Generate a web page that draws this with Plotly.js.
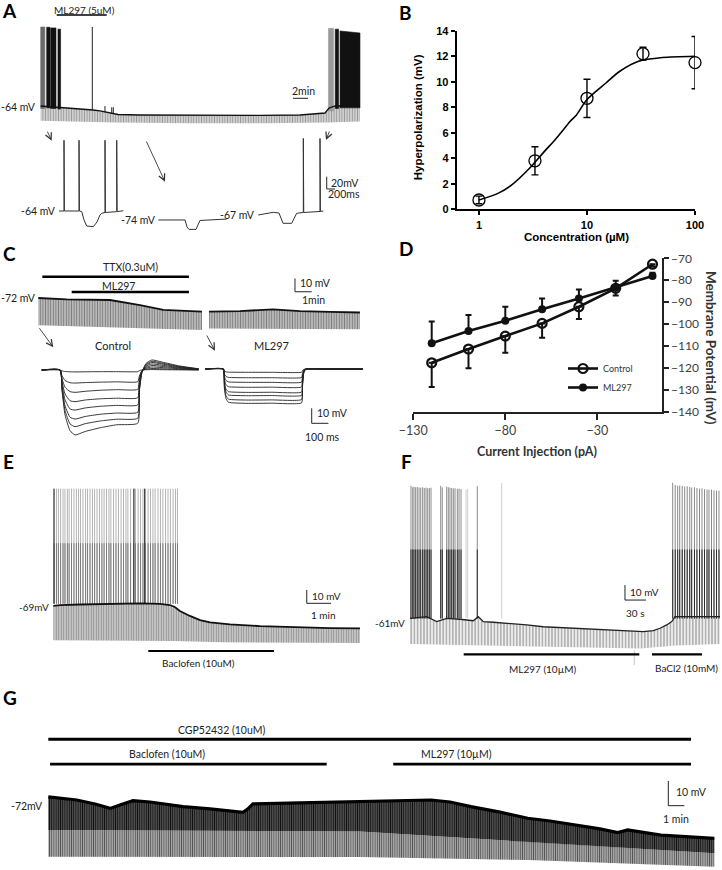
<!DOCTYPE html>
<html>
<head>
<meta charset="utf-8">
<script src="https://cdn.plot.ly/plotly-3.0.1.min.js"></script>
<style>
html,body{margin:0;padding:0;background:#fff;}
#chart{width:722px;height:870px;}
</style>
</head>
<body>
<div id="chart"></div>
<script>
/* ================= DATA ================= */
// ---- Panel B: dose response ----
const concB   = [1, 3.3, 10, 33, 100];
const hypB    = [0.73, 3.8, 8.7, 12.2, 11.5];
const hypErrB = [0.3, 1.1, 1.5, 0.5, 2.05];
const fitConcB = [1, 1.5, 2, 3, 4, 5, 6, 7, 8, 10, 15, 20, 30, 50, 100];
const fitHypB  = [0.73, 1.25, 1.9, 3.3, 4.5, 5.4, 6.2, 6.9, 7.4, 8.6, 9.9, 10.8, 11.6, 11.9, 12.0];

// ---- Panel D: I-V ----
const currentD   = [-120, -100, -80, -60, -40, -20, 0];
const vmControlD = [-117.7, -111.4, -105.5, -99.7, -92.1, -83.7, -72.7];
const errControlD= [11, 8.8, 7.6, 6.5, 5.6, 3.3, 1];
const vmML297D   = [-108.8, -103.2, -98.5, -93.2, -88.3, -83.3, -78.1];
const errML297D  = [10, 7.3, 6.4, 4.9, 4.1, 3.1, 1.5];

// ---- Panel A: long recording (min, mV) ----
const aBaseT = [0, 0.97, 2.57, 4.57, 6.97, 7.91, 8.97, 10.31, 13.24, 21.24, 29.24, 34.57, 37.91, 38.44, 39.24, 42.57];
const aBaseV = [-64, -64.8, -66.1, -68.1, -70.5, -72.1, -74.6, -77.8, -78.6, -79.1, -79.4, -78.6, -75.4, -67.3, -64, -63.2];
const aLowT  = [0, 10, 20, 30, 38, 42.57];
const aLowV  = [-88, -91, -92, -92, -91, -89];
const aSpikeT    = [6.88, 8.57, 9.47, 9.68];
const aSpikeFrom = [-70.4, -74.5, -76, -76];
const aSpikePeak = [64.5, -64, -66.1, -66.1];
const aBurstOn    = [0, 0.8, 1.33, 2.3, 38.37, 39.27, 39.91];
const aBurstOff   = [0.55, 1.24, 2.04, 2.65, 39.04, 39.71, 42.57];
const aBurstTopOn = [64.5, 64, 63, 61, 62.3, 61, 58];
const aBurstTopOff= [64.5, 64, 63, 61, 62.3, 61, 54.7];
const aBurstFloor = [-68, -67, -68, -69, -72, -68, -67];
const aML297On = [2.13], aML297Off = [8.8];
const aScaleMin = 2;
// inset traces (s, mV)
const aIn1T = [0, 0.12, 0.12, 0.13, 0.48, 0.48, 0.49, 0.544, 0.6, 0.664, 0.823, 0.911, 0.983, 1.024, 1.103, 1.103, 1.113, 1.384, 1.384, 1.394, 1.542];
const aIn1V = [-64, -64, 51, -64, -64, 51, -64, -64.8, -78.6, -88.4, -89.5, -81.9, -70.5, -67.7, -66.4, 51, -66.4, -65.1, 51, -65.1, -63.5];
const aIn2T = [2.381, 3.022, 3.07, 3.118, 3.285, 3.333, 3.381, 4.022];
const aIn2V = [-78.6, -78.6, -90, -93.9, -93.9, -86.8, -79.4, -77.1];
const aIn3T = [4.779, 5.139, 5.276, 5.324, 5.372, 5.58, 5.635, 5.7, 5.859, 5.859, 5.869, 6.259, 6.259, 6.269, 6.338];
const aIn3V = [-70.5, -66.1, -67.3, -77, -84, -84, -75.4, -67.7, -66.4, 54, -66.4, -64.8, 54, -64.8, -64];
const aInScaleMv = 20, aInScaleS = 0.2;

// ---- Panel C: TTX recording (min, mV) ----
const cTop1T = [0, 1.7, 4.29, 6.09, 7.49, 8.49, 9.8];
const cTop1V = [-72, -73.1, -73.5, -77.3, -81, -81.8, -82.3];
const cLow1T = [0, 5, 9.8];
const cLow1V = [-92.5, -94.5, -96];
const cTop2T = [10.22, 12.08, 14.05, 15.67, 17.47, 19.26];
const cTop2V = [-82.3, -81.8, -80.6, -81.8, -82.5, -82.9];
const cLow2T = [10.22, 15, 19.26];
const cLow2V = [-95, -95.5, -95.5];
const cTTXOn = [0.24], cTTXOff = [9.02];
const cMLOn  = [2.0],  cMLOff  = [9.02];
const cTopScaleMv = 10, cTopScaleMin = 1;
// current-step families (ms, mV relative to rest)
const cCtlT = [0, 110, 122, 140, 170, 200, 260, 350, 450, 575, 585, 600, 625, 660, 720, 820, 940];
const cCtlV = [
  [0,0,-0.6,-1.0,-1.2,-1.3,-1.2,-1.1,-1.1,-1.1,-0.5,0,0.2,0.3,0.2,0.1,0],
  [0,0,-4,-7,-8.5,-8.7,-8.4,-8.1,-7.9,-7.8,-4,-0.5,0.6,1.0,0.8,0.4,0.1],
  [0,0,-6,-11.5,-14.4,-14.9,-14.2,-13.5,-13.1,-12.9,-6,-0.5,1.2,2.0,1.6,0.9,0.3],
  [0,0,-8,-16,-20.5,-21.1,-20,-19.2,-18.8,-18.5,-8,-0.8,1.8,3.0,2.4,1.3,0.4],
  [0,0,-10,-20,-26,-26.7,-25.3,-24.2,-23.6,-23.3,-10,-1,2.5,4.0,3.2,1.7,0.5],
  [0,0,-12,-24,-31.5,-32.7,-31,-29.5,-28.7,-28.2,-12,-1.2,3.2,5.0,4.0,2.1,0.6],
  [0,0,-13,-27,-36,-37.8,-35.8,-34,-32.8,-32.2,-13,-1.5,3.8,5.8,4.6,2.4,0.7],
  [0,0,-14,-30,-40.5,-43.3,-41,-38.5,-36.5,-35.5,-14,-1.8,4.4,6.7,5.3,2.8,0.8]
];
const cMlT = [0, 110, 116, 125, 140, 250, 400, 578, 584, 592, 605, 700, 946];
const cMlV = [
  [0,0,-1.2,-1.9,-2.1,-2.2,-2.2,-2.2,-1.1,-0.2,0,0,0],
  [0,0,-3.2,-4.9,-5.6,-5.8,-5.8,-5.7,-2.9,-0.6,0,0,0],
  [0,0,-4.9,-7.6,-8.6,-8.9,-8.9,-8.8,-4.4,-0.9,0,0,0],
  [0,0,-6.7,-10.4,-11.8,-12.2,-12.1,-12.0,-6.1,-1.2,0,0,0],
  [0,0,-8.6,-13.3,-15.1,-15.6,-15.5,-15.4,-7.8,-1.6,0,0,0],
  [0,0,-9.8,-15.1,-17.3,-17.8,-17.7,-17.6,-8.9,-1.8,0,0,0],
  [0,0,-11.4,-17.6,-20.1,-20.7,-20.6,-20.4,-10.3,-2.1,0,0,0],
  [0,0,-12.6,-19.5,-22.2,-22.9,-22.8,-22.6,-11.4,-2.3,0,0,0]
];
const cFamScaleMv = 10, cFamScaleMs = 100;

// ---- Panel E: baclofen (min, mV) ----
const eBaseT = [0, 0.28, 1.1, 1.92, 2.74, 3.57, 4.39, 4.8, 5.0, 5.21, 5.62, 6.04, 6.45, 7.27, 8.51, 10.15, 11.39, 12.62];
const eBaseV = [-69.2, -68.5, -68.1, -67.7, -67.3, -67.3, -67.7, -68.5, -70, -73, -76.7, -79.8, -81.6, -83.1, -84.3, -85.4, -85.8, -86.1];
const eLowT  = [0, 5, 7, 12.62];
const eLowV  = [-95, -95.5, -96.5, -97];
const eSpikeT = [0.03,0.13,0.21,0.30,0.40,0.48,0.58,0.65,0.75,0.85,0.95,1.04,1.12,1.22,1.33,1.41,1.51,1.61,1.70,1.80,1.90,2.00,2.09,2.19,2.29,2.37,2.48,2.58,2.68,2.79,2.89,2.99,3.07,3.18,3.30,3.38,3.49,3.59,3.69,3.79,3.90,4.00,4.10,4.19,4.31,4.41,4.51,4.62,4.72,4.82,4.93,5.03,5.11];
const eDarkSpikeT = [0.03, 3.32, 3.76];
const eSpikeFrom = -67.6, eSpikePeak = 19, eSpikeShade = -22;
const eBacOn = [3.91], eBacOff = [9.08];
const eScaleMv = 10, eScaleMin = 1;

// ---- Panel F: ML297 then BaCl2 (s, mV) ----
const fBaseT = [0, 23.9, 38.1, 52.4, 71.4, 90.4, 97.6, 104.7, 119, 142.9, 166.7, 190.4, 214.3, 238.1, 261.9, 285.7, 309.6, 333.3, 347.6, 357.1, 366.7, 373.9, 378.6, 442.9];
const fBaseV = [-59.9, -58.8, -62.1, -59.9, -60.5, -61.5, -58.8, -62.1, -62.5, -63.2, -64.3, -65.5, -66.1, -66.8, -67.2, -67.7, -68.1, -68.8, -68.1, -66.5, -64.3, -62.1, -58.8, -58.8];
const fLowT = [0, 150, 330, 380, 442.9];
const fLowV = [-77, -78.5, -80, -78, -77];
const fSpikeT = [1.4, 3.9, 5.7, 8.1, 10.4, 12.9, 15.3, 18.1, 20.4, 22.9, 25.3, 27.6, 30, 43.9, 46.1, 52.4, 54.7, 57.1, 59.6, 61.9, 64.3, 67.6, 70, 72.9, 96.1,
                 375.3, 378.9, 382.4, 385.3, 388.9, 392.4, 396, 399.6, 402.4, 406.4, 409.9, 413.6, 417.1, 420.7, 424.3, 427.1, 430.7, 434.3, 437.9, 441.4];
const fSpikePeak = [28.5, 27.5, 27.8, 27.5, 27.6, 27.4, 27.2, 27.5, 27.0, 27.3, 26.8, 27.0, 27.2, 28.4, 27.4, 28.0, 27.5, 27.2, 27.0, 26.7, 26.9, 26.5, 26.6, 26.3, 28.2,
                    30.5, 29, 28.5, 28.6, 28.3, 28, 28.2, 27.6, 27.4, 27.5, 27, 26.6, 26.8, 26.2, 26, 25.8, 25.9, 25.5, 25.3, 25.2];
const fLightSpikeT = [80, 82.4, 131];
const fLightSpikePeak = [26, 26.5, 30.5];
const fSpikeShade = -14;
const fArtifactT = [320.4];
const fMLOn = [76.7], fMLOff = [327.6];
const fBaOn = [345.7], fBaOff = [417.1];
const fScaleMv = 10, fScaleS = 30;

// ---- Panel G: CGP52432 (min, mV) ----
const gBaseT = [0, 0.73, 1.78, 2.92, 3.86, 4.48, 5.29, 6.36, 8.42, 10.11, 12.17, 12.48, 12.79, 15.73, 19.54, 21.98, 23.92, 25.11, 26.42, 28.23, 29.96, 31.36, 33.09, 34.48, 35.59, 36.21, 38.29, 40.11, 41.63];
const gBaseV = [-70.7, -71.2, -72, -73.6, -75.4, -74, -72.3, -72.8, -74.7, -75.6, -77, -75.6, -73.6, -73.2, -72.7, -72.4, -72, -72.8, -74.7, -76.9, -79.4, -80.5, -82.1, -83.7, -85.2, -84.1, -86.2, -87, -87.5];
const gDarkLowT = [0, 19.5, 30, 41.63];
const gDarkLowV = [-84.1, -84.8, -88.9, -93.6];
const gLightLowT = [0, 19.5, 30, 41.63];
const gLightLowV = [-95, -95.1, -96.3, -99];
const gCGPOn = [0], gCGPOff = [40.17];
const gBacOn = [0.11], gBacOff = [17.4];
const gMLOn = [21.56], gMLOff = [40.17];
const gScaleMv = 10, gScaleMin = 1;

/* ================= LAYOUT / DRAWING ================= */
const W = 722, H = 870;
const traces = [];
const annotations = [];
const FONT = 'Lato';

// overlay axes: origin pixel (ox, oy) for (t=0, V=v), scale px per unit
const TF = {
  3:{ox:40.7, oy:106,  sx:7.5,   sy:0.615, v:-64},
  4:{ox:59,   oy:211,  sx:41.7,  sy:0.615, v:-64},
  5:{ox:38.3, oy:298,  sx:16.7,  sy:1.33,  v:-72},
  6:{ox:41.7, oy:370,  sx:0.167, sy:1.5,   v:0},
  7:{ox:205,  oy:369,  sx:0.167, sy:1.5,   v:0},
  8:{ox:53.3, oy:605.7,sx:24.3,  sy:1.33,  v:-69},
  9:{ox:410,  oy:620,  sx:0.7,   sy:1.5,   v:-61},
  10:{ox:48.3,oy:800,  sx:16,    sy:2.47,  v:-72}
};

const layout = {
  width:W, height:H, margin:{l:0,r:0,t:0,b:0},
  paper_bgcolor:'#ffffff', plot_bgcolor:'rgba(0,0,0,0)',
  showlegend:true, annotations:annotations,
  legend:{x:563/W, y:1-354/H, xanchor:'left', yanchor:'top', bgcolor:'rgba(0,0,0,0)',
          font:{family:FONT, size:9, color:'#333'}, itemwidth:30, tracegroupgap:0},
  // Panel B
  xaxis:{domain:[456.7/W, 695/W], type:'log', range:[-0.206, 2.0], tickvals:[1,10,100], ticktext:['1','10','100'],
         showline:true, linewidth:2, linecolor:'#000', ticks:'outside', ticklen:4, tickwidth:2, tickcolor:'#000',
         showgrid:false, zeroline:false, anchor:'y',
         tickfont:{family:'Liberation Sans', size:11, color:'#000', weight:'bold'}},
  yaxis:{domain:[1-209.3/H, 1-30.7/H], range:[0,14], dtick:2, tick0:0,
         showline:true, linewidth:2, linecolor:'#000', ticks:'outside', ticklen:4, tickwidth:2, tickcolor:'#000',
         showgrid:false, zeroline:false, anchor:'x',
         tickfont:{family:'Liberation Sans', size:11, color:'#000', weight:'bold'}},
  // Panel D
  xaxis2:{domain:[413.3/W, 661.7/W], range:[-130,5], tickvals:[-130,-80,-30],
          showline:true, linewidth:2, linecolor:'#222', ticks:'outside', ticklen:6, tickwidth:2, tickcolor:'#222',
          showgrid:false, zeroline:false, anchor:'y2',
          tickfont:{family:FONT, size:12.5, color:'#404040'}},
  yaxis2:{domain:[1-411.7/H, 1-258.3/H], range:[-140,-70], dtick:10, tick0:-140, side:'right',
          showline:true, linewidth:2, linecolor:'#222', ticks:'outside', ticklen:5, tickwidth:2, tickcolor:'#222',
          showgrid:false, zeroline:false, anchor:'x2',
          tickfont:{family:FONT, size:12, color:'#404040'}}
};
Object.keys(TF).forEach(k => {
  const p = TF[k];
  layout['xaxis'+k] = {domain:[0,1], range:[-p.ox/p.sx, (W-p.ox)/p.sx], visible:false, fixedrange:true, anchor:'y'+k};
  layout['yaxis'+k] = {domain:[0,1], range:[p.v-(H-p.oy)/p.sy, p.v+p.oy/p.sy], visible:false, fixedrange:true, anchor:'x'+k};
});

function ax(n){ return n===1 ? {xaxis:'x', yaxis:'y'} : {xaxis:'x'+n, yaxis:'y'+n}; }
function line(n, x, y, color, width, extra){
  traces.push(Object.assign({type:'scatter', mode:'lines', x:x, y:y, line:{color:color, width:width},
    hoverinfo:'skip', showlegend:false, cliponaxis:false}, ax(n), extra||{}));
}
function band(n, tTop, vTop, tLow, vLow, bg, fg, size, sol){
  const x = tTop.concat(tLow.slice().reverse());
  const y = vTop.concat(vLow.slice().reverse());
  traces.push(Object.assign({type:'scatter', mode:'lines', x:x, y:y, fill:'toself', fillcolor:bg,
    fillpattern:{shape:'|', fgcolor:fg, bgcolor:bg, size:size, solidity:sol},
    line:{width:0, color:bg}, hoverinfo:'skip', showlegend:false}, ax(n)));
}
function spikes(n, ts, from, peak, color, width){
  const x = [], y = [];
  ts.forEach((t,i) => { x.push(t, t, null);
    y.push(Array.isArray(from)?from[i]:from, Array.isArray(peak)?peak[i]:peak, null); });
  line(n, x, y, color, width);
}
function blocks(n, on, off, top0, top1, floor, color){
  const x = [], y = [];
  on.forEach((t,i) => { x.push(t, t, off[i], off[i], t, null); y.push(floor[i], top0[i], top1[i], floor[i], floor[i], null); });
  traces.push(Object.assign({type:'scatter', mode:'lines', x:x, y:y, fill:'toself', fillcolor:color,
    line:{width:0.6, color:color}, hoverinfo:'skip', showlegend:false}, ax(n)));
}
function drug(n, on, off, level, width){
  const x = [], y = [];
  on.forEach((t,i) => { x.push(t, off[i], null); y.push(level, level, null); });
  line(n, x, y, '#000', width);
}
function scalebar(n, t0, v0, dt, dv, width){
  if (dv) line(n, [t0, t0, t0+dt], [v0+dv, v0, v0], '#222', width);
  else line(n, [t0, t0+dt], [v0, v0], '#222', width);
}
function T(text, x, y, o){
  o = o || {};
  annotations.push({text:text, xref:'paper', yref:'paper', x:x/W, y:1-y/H, xanchor:o.xa||'center', yanchor:'middle',
    showarrow:false, textangle:o.rot||0,
    font:{family:o.fam||FONT, size:o.size||10.5, color:o.color||'#222', weight:o.weight||'normal'}});
}
function ARW(x, y, dx, dy){
  annotations.push({text:'', xref:'paper', yref:'paper', x:x/W, y:1-y/H, ax:dx, ay:dy, showarrow:true,
    arrowhead:5, arrowsize:1.4, arrowwidth:0.9, arrowcolor:'#333'});
}

/* ---- Panel B ---- */
line(1, fitConcB, fitHypB, '#000', 1.6, {line:{color:'#000', width:1.6, shape:'spline', smoothing:0.8}});
traces.push(Object.assign({type:'scatter', mode:'markers', x:concB, y:hypB, showlegend:false, cliponaxis:false, hoverinfo:'skip',
  marker:{symbol:'circle-open', size:12, color:'#000', line:{width:1.3, color:'#000'}},
  error_y:{type:'data', array:hypErrB, visible:true, color:'#000', thickness:1.4, width:3.5}}, ax(1)));
T('Hyperpolarization (mV)', 418.3, 117, {rot:-90, fam:'Liberation Sans', size:11.5, weight:'bold', color:'#000'});
T('Concentration (µM)', 576, 237, {fam:'Liberation Sans', size:11.5, weight:'bold', color:'#000'});

/* ---- Panel D ---- */
const zerosD = currentD.map(() => 0);
traces.push(Object.assign({type:'scatter', mode:'lines+markers', name:'Control', x:currentD, y:vmControlD, cliponaxis:false, hoverinfo:'skip',
  line:{color:'#111', width:2.6}, marker:{symbol:'circle-open', size:9, color:'#111', line:{width:2.2, color:'#111'}},
  error_y:{type:'data', symmetric:false, array:zerosD, arrayminus:errControlD, color:'#111', thickness:2, width:3}}, ax(2)));
traces.push(Object.assign({type:'scatter', mode:'lines+markers', name:'ML297', x:currentD, y:vmML297D, cliponaxis:false, hoverinfo:'skip',
  line:{color:'#111', width:2.6}, marker:{symbol:'circle', size:8, color:'#111'},
  error_y:{type:'data', symmetric:false, array:errML297D, arrayminus:zerosD, color:'#111', thickness:2, width:3}}, ax(2)));
T('Current Injection (pA)', 536.7, 451, {size:12.5, weight:'bold', color:'#333'});
T('Membrane Potential (mV)', 711, 348, {rot:90, size:13.5, weight:'bold', color:'#333'});

/* ---- Panel A ---- */
band(3, aBaseT, aBaseV, aLowT, aLowV, '#dcdcdc', '#9a9a9a', 2.6, 0.45);
blocks(3, aBurstOn.slice(0,1), aBurstOff.slice(0,1), aBurstTopOn.slice(0,1), aBurstTopOff.slice(0,1), aBurstFloor.slice(0,1), '#6a6a6a');
blocks(3, aBurstOn.slice(1,4), aBurstOff.slice(1,4), aBurstTopOn.slice(1,4), aBurstTopOff.slice(1,4), aBurstFloor.slice(1,4), '#111');
blocks(3, aBurstOn.slice(4,5), aBurstOff.slice(4,5), aBurstTopOn.slice(4,5), aBurstTopOff.slice(4,5), aBurstFloor.slice(4,5), '#9a9a9a');
blocks(3, aBurstOn.slice(5), aBurstOff.slice(5), aBurstTopOn.slice(5), aBurstTopOff.slice(5), aBurstFloor.slice(5), '#111');
spikes(3, aSpikeT, aSpikeFrom, aSpikePeak, '#222', 1);
line(3, aBaseT, aBaseV, '#111', 1.3);
drug(3, aML297On, aML297Off, 84, 1.6);
scalebar(3, 33.64, -51.5, aScaleMin, 0, 1);
line(4, aIn1T, aIn1V, '#333', 1);
line(4, aIn2T, aIn2V, '#333', 1);
line(4, aIn3T, aIn3V, '#333', 1);
scalebar(4, 6.42, -28.2, aInScaleS, aInScaleMv, 1);
T('ML297 (5uM)', 84, 10, {size:10});
T('2min', 303, 90.7, {size:10.5});
T('-64 mV', 38, 106.7, {xa:'right', size:10.5});
T('-64 mV', 57.5, 211, {xa:'right', size:10.5});
T('-74 mV', 157.5, 220, {xa:'right', size:10.5});
T('-67 mV', 257, 215, {xa:'right', size:10.5});
T('20mV', 328.5, 182.7, {xa:'left', size:10.5});
T('200ms', 326, 194, {xa:'left', size:10.5});
ARW(51.7, 140.7, -5, -10.7);
ARW(165, 181.7, -19.3, -41.7);
ARW(326, 140, 4, -10);

/* ---- Panel C ---- */
band(5, cTop1T, cTop1V, cLow1T, cLow1V, '#c4c4c4', '#7e7e7e', 2.6, 0.45);
band(5, cTop2T, cTop2V, cLow2T, cLow2V, '#c4c4c4', '#7e7e7e', 2.6, 0.45);
line(5, cTop1T, cTop1V, '#111', 1.8);
line(5, cTop2T, cTop2V, '#111', 1.8);
drug(5, cTTXOn, cTTXOff, -56, 2.4);
drug(5, cMLOn, cMLOff, -67.5, 2.4);
scalebar(5, 15.37, -67.3, cTopScaleMin, cTopScaleMv, 1);
cCtlV.forEach(v => line(6, cCtlT, v, '#222', 1, {line:{color:'#222', width:0.9, shape:'spline', smoothing:0.5}}));
cMlV.forEach(v => line(7, cMlT, v, '#222', 1, {line:{color:'#222', width:0.9, shape:'spline', smoothing:0.4}}));
scalebar(7, 639, -36.2, cFamScaleMs, cFamScaleMv, 1);
T('TTX(0.3uM)', 130, 267.3, {size:10.5});
T('ML297', 118.3, 285.7, {size:10.5});
T('-72 mV', 37.5, 298, {xa:'right', size:10.5});
T('10 mV', 297.5, 283.3, {xa:'left', size:10.5});
T('1min', 313, 300, {size:10.5});
T('Control', 113.3, 345, {size:11});
T('ML297', 271.7, 345, {size:11});
T('10 mV', 314.5, 413, {xa:'left', size:10.5});
T('100 ms', 322, 437.3, {size:10.5});
ARW(53.3, 347.3, -15, -20.6);
ARW(215, 350.7, -9, -16.7);

/* ---- Panel E ---- */
band(8, eBaseT, eBaseV, eLowT, eLowV, '#d2d2d2', '#8e8e8e', 2.5, 0.45);
spikes(8, eSpikeT, eSpikeFrom, eSpikePeak, '#b4b4b4', 1);
spikes(8, eSpikeT, eSpikeFrom, eSpikeShade, '#7a7a7a', 1);
spikes(8, eDarkSpikeT, eSpikeFrom, eSpikePeak, '#222', 1);
line(8, eBaseT, eBaseV, '#111', 1.8);
drug(8, eBacOn, eBacOff, -103.1, 2);
scalebar(8, 10.43, -67.2, eScaleMin, eScaleMv, 1);
T('-69mV', 51, 606.7, {xa:'right', size:10});
T('10 mV', 310, 596, {xa:'left', size:10});
T('1 min', 323, 615, {size:10});
T('Baclofen (10uM)', 199, 662.7, {size:10});

/* ---- Panel F ---- */
band(9, fBaseT, fBaseV, fLowT, fLowV, '#eeeeee', '#8a8a8a', 3.2, 0.3);
spikes(9, fSpikeT, -60, fSpikePeak, '#8a8a8a', 1);
spikes(9, fSpikeT, -60, fSpikeShade, '#2a2a2a', 1);
spikes(9, fLightSpikeT, -60, fLightSpikePeak, '#cfcfcf', 1);
spikes(9, fArtifactT, -81, -91, '#bbbbbb', 0.8);
line(9, fBaseT, fBaseV, '#222', 1.3);
drug(9, fMLOn, fMLOff, -83.9, 2.2);
drug(9, fBaOn, fBaOff, -83.9, 2.2);
scalebar(9, 307.1, -47.7, fScaleS, fScaleMv, 1);
T('-61mV', 407, 623.3, {xa:'right', size:10});
T('10 mV', 628, 591.7, {xa:'left', size:10});
T('30 s', 635.5, 613.3, {size:10});
T('ML297 (10µM)', 542.7, 669.3, {size:10});
T('BaCl2 (10mM)', 686, 668.3, {size:10});

/* ---- Panel G ---- */
band(10, gDarkLowT, gDarkLowV, gLightLowT, gLightLowV, '#bdbdbd', '#555555', 2.2, 0.5);
band(10, gBaseT, gBaseV, gDarkLowT, gDarkLowV, '#5e5e5e', '#111111', 2.2, 0.5);
line(10, gBaseT, gBaseV, '#000', 3.2);
drug(10, gCGPOn, gCGPOff, -47.4, 2.8);
drug(10, gBacOn, gBacOff, -57.5, 2.8);
drug(10, gMLOn, gMLOff, -57.5, 2.8);
scalebar(10, 38.75, -74.3, gScaleMin, gScaleMv, 1);
T('CGP52432 (10uM)', 221.7, 730, {size:10.5});
T('Baclofen (10uM)', 166.7, 754, {size:10.5});
T('ML297 (10µM)', 456, 754, {size:10.5});
T('-72mV', 45, 805.7, {xa:'right', size:10.5});
T('10 mV', 673.7, 791.7, {xa:'left', size:10.5});
T('1 min', 676, 819, {size:10.5});

/* ---- Panel letters ---- */
[['A',9,11],['B',406,12],['C',9,253],['D',406,248],['E',8,461],['F',407,461],['G',10,697]].forEach(p =>
  T(p[0], p[1], p[2], {size:19, weight:'bold', color:'#000'}));

Plotly.newPlot('chart', traces, layout, {staticPlot:true});
</script>
</body>
</html>
